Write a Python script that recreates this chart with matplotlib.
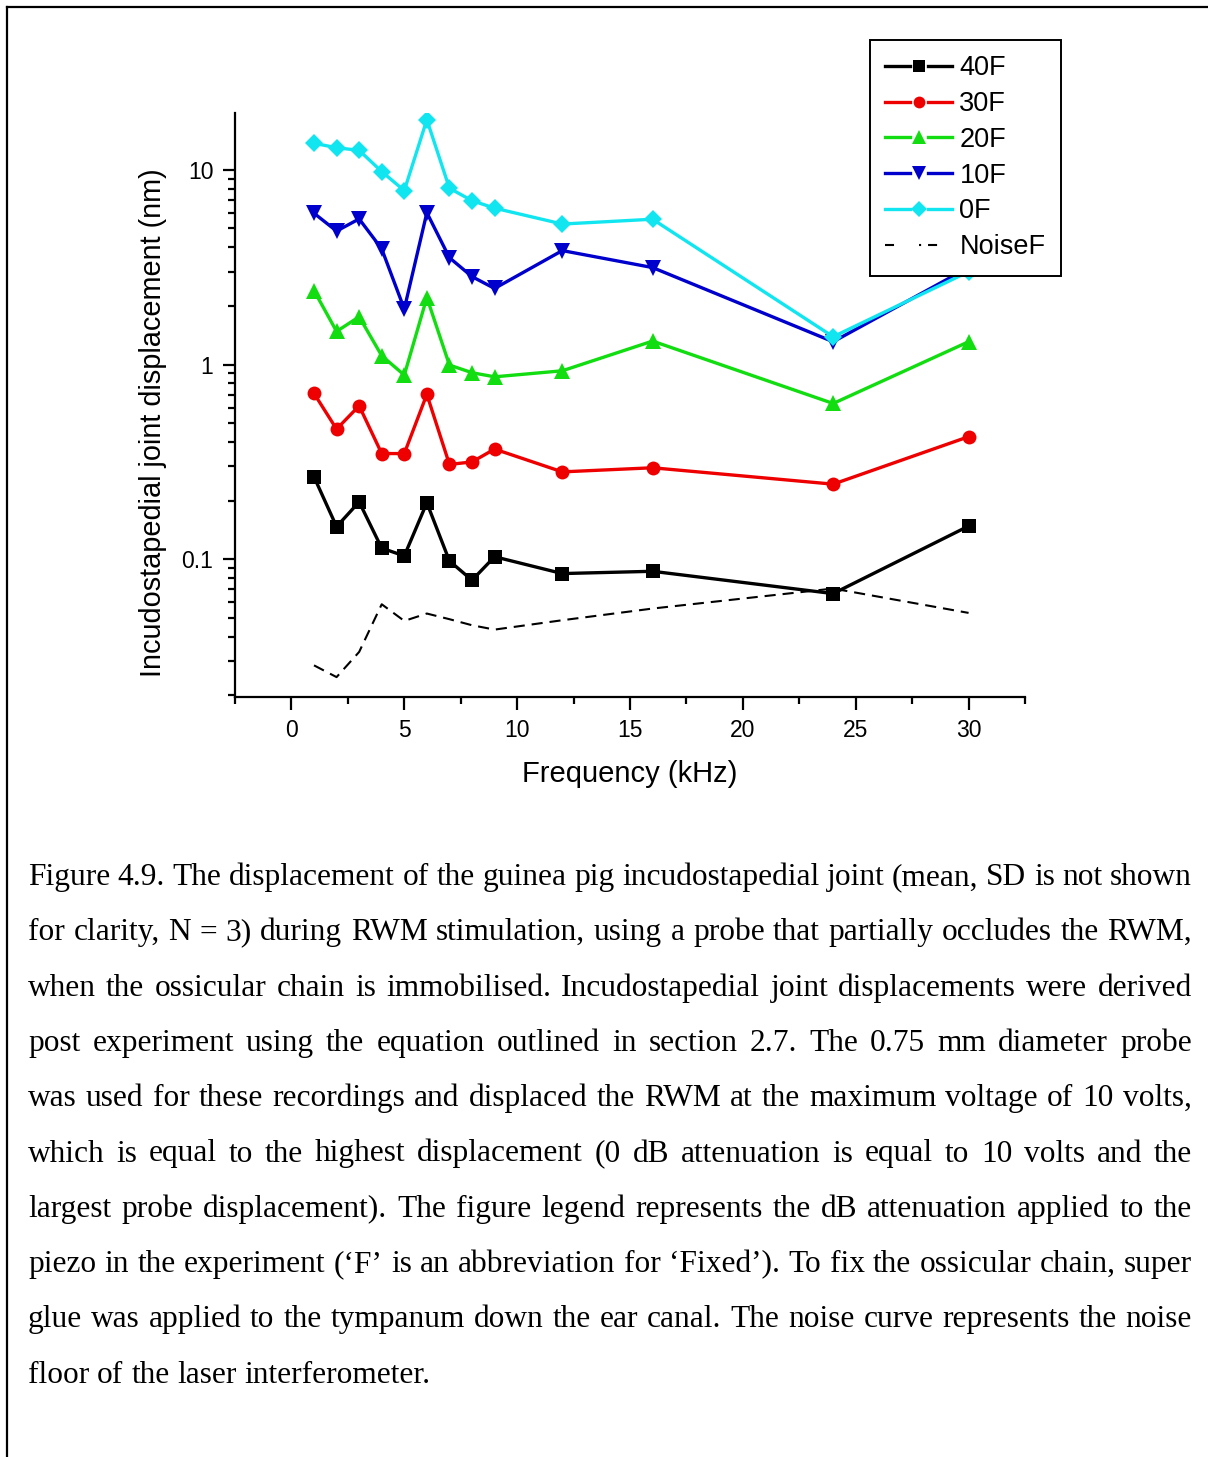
import matplotlib
matplotlib.use("Agg")
import matplotlib.pyplot as plt
from matplotlib.lines import Line2D
from matplotlib.legend_handler import HandlerBase
from matplotlib.transforms import IdentityTransform
from matplotlib.ticker import FixedLocator, NullFormatter, LogLocator

# Frequencies (kHz)
freq = [1, 2, 3, 4, 5, 6, 7, 8, 9, 12, 16, 24, 30]

# Displacement (nm) per attenuation level
disp_40f = [0.265, 0.147, 0.197, 0.114, 0.104, 0.195, 0.098, 0.078, 0.103, 0.0844, 0.0867, 0.0666, 0.148]
disp_30f = [0.711, 0.466, 0.614, 0.349, 0.349, 0.703, 0.307, 0.316, 0.368, 0.281, 0.295, 0.243, 0.426]
disp_20f = [2.40, 1.48, 1.76, 1.11, 0.883, 2.21, 0.994, 0.908, 0.865, 0.929, 1.32, 0.631, 1.31]
disp_10f = [5.99, 4.85, 5.60, 3.93, 1.93, 6.03, 3.54, 2.83, 2.46, 3.85, 3.15, 1.31, 3.15]
disp_0f = [13.7, 13.0, 12.6, 9.8, 7.83, 18.1, 8.05, 6.95, 6.36, 5.27, 5.58, 1.39, 3.0]
disp_noise = [0.0285, 0.0248, 0.0334, 0.0587, 0.0482, 0.0526, 0.0492, 0.0458, 0.0435, 0.0486, 0.0558, 0.0707, 0.053]

series_labels = ["40F", "30F", "20F", "10F", "0F"]
x_ticks = [0, 5, 10, 15, 20, 25, 30]
y_ticks = [0.1, 1, 10]
y_tick_labels = ["0.1", "1", "10"]

caption_lines = [
    "Figure 4.9. The displacement of the guinea pig incudostapedial joint (mean, SD is not shown",
    "for clarity, N = 3) during RWM stimulation, using a probe that partially occludes the RWM,",
    "when the ossicular chain is immobilised. Incudostapedial joint displacements were derived",
    "post experiment using the equation outlined in section 2.7. The 0.75 mm diameter probe",
    "was used for these recordings and displaced the RWM at the maximum voltage of 10 volts,",
    "which is equal to the highest displacement (0 dB attenuation is equal to 10 volts and the",
    "largest probe displacement). The figure legend represents the dB attenuation applied to the",
    "piezo in the experiment (\u2018F\u2019 is an abbreviation for \u2018Fixed\u2019). To fix the ossicular chain, super",
    "glue was applied to the tympanum down the ear canal. The noise curve represents the noise",
    "floor of the laser interferometer.",
]

W, H = 1208, 1457
plt.rcParams["lines.scale_dashes"] = False
sans = ["Liberation Sans", "DejaVu Sans"]
serif = ["Liberation Serif", "DejaVu Serif"]


class SplitLineHandler(HandlerBase):
    """Legend key drawn as line - marker - line with small gaps round the marker."""

    def create_artists(self, legend, orig, xdescent, ydescent, width, height,
                       fontsize, trans):
        y = height / 2 - ydescent
        x0, x1 = -xdescent, -xdescent + width
        xm = (x0 + x1) / 2
        g = 0.135 * width
        kw = dict(color=orig.get_color(), lw=orig.get_linewidth())
        left = Line2D([x0, xm - g], [y, y], **kw)
        right = Line2D([xm + g, x1], [y, y], **kw)
        mark = Line2D([xm], [y], marker=orig.get_marker(), color=orig.get_color(),
                      markersize=orig.get_markersize() * 0.85, markeredgewidth=0,
                      linestyle="none")
        for a in (left, right, mark):
            a.set_transform(trans)
        return [left, right, mark]


fig = plt.figure(figsize=(W / 100, H / 100), dpi=100)

# page frame (left and top rules)
fig.add_artist(Line2D([7.5 / W, 7.5 / W], [0, 1 - 7 / H], color="black", lw=1.6,
                      transform=fig.transFigure))
fig.add_artist(Line2D([7.5 / W, 1], [1 - 7 / H, 1 - 7 / H], color="black", lw=1.6,
                      transform=fig.transFigure))

ax = fig.add_axes([235 / W, 1 - 697 / H, (1025 - 235) / W, (697 - 113) / H])

styles = [
    ("#000000", "s", 9.5),
    ("#ee0000", "o", 10),
    ("#11dd11", "^", 12),
    ("#0000cc", "v", 12),
    ("#11e6f0", "D", 9.5),
]
data = [disp_40f, disp_30f, disp_20f, disp_10f, disp_0f]
handles = []
for vals, lab, (c, m, ms) in zip(data, series_labels, styles):
    h, = ax.plot(freq, vals, color=c, marker=m, markersize=ms, lw=2.4, label=lab,
                 markeredgewidth=0, zorder=3)
    handles.append(h)

ax.plot(freq, disp_noise, color="black", lw=1.5, dashes=(8, 5), zorder=2)
noise_handle = Line2D([], [], color="black", lw=1.5, dashes=(6.5, 18, 1.5, 5))
handles.append(noise_handle)

ax.set_yscale("log")
ax.set_xlim(-2.5, 32.5)
ax.set_ylim(0.0196, 19.6)

ax.set_xticks(x_ticks)
ax.set_xticklabels([str(t) for t in x_ticks])
ax.xaxis.set_minor_locator(FixedLocator([t + 2.5 for t in range(-5, 35, 5)]))
ax.set_yticks(y_ticks)
ax.set_yticklabels(y_tick_labels)
ax.yaxis.set_minor_locator(LogLocator(base=10, subs=range(2, 10)))
ax.yaxis.set_minor_formatter(NullFormatter())

for s in ["top", "right"]:
    ax.spines[s].set_visible(False)
for s in ["left", "bottom"]:
    ax.spines[s].set_linewidth(1.6)

ax.tick_params(which="major", direction="out", length=9, width=1.6, labelsize=16.5,
               pad=6.5)
ax.tick_params(which="minor", direction="out", length=5, width=1.6)
for lbl in ax.get_xticklabels() + ax.get_yticklabels():
    lbl.set_family(sans)

ax.set_xlabel("Frequency (kHz)", fontsize=21, family=sans, labelpad=13)
ax.set_ylabel("Incudostapedial joint displacement (nm)", fontsize=20.8, family=sans)
ax.yaxis.set_label_coords((167 - 235) / (1025 - 235), (697 - 423) / (697 - 113))

split = SplitLineHandler()
leg = fig.legend(handles, series_labels + ["NoiseF"], loc="upper left",
                 bbox_to_anchor=(870 / W, 1 - 40 / H), prop={"family": sans, "size": 19.5},
                 frameon=True, fancybox=False, edgecolor="black", framealpha=1,
                 handlelength=2.47, handletextpad=0.26, labelspacing=0.36,
                 borderpad=0.57, borderaxespad=0,
                 handler_map={h: split for h in handles[:5]})
leg.get_frame().set_linewidth(1.4)

# justified caption
fig.canvas.draw()
renderer = fig.canvas.get_renderer()
cap_fs = 22.6
x_left, x_right = 28, 1192
base0, step = 885, 55.3
for i, line in enumerate(caption_lines):
    y = H - (base0 + i * step)
    words = line.split(" ")
    texts = [fig.text(0, y, w, fontsize=cap_fs, family=serif, transform=IdentityTransform(),
                      va="baseline", ha="left") for w in words]
    widths = [t.get_window_extent(renderer).width for t in texts]
    if i < len(caption_lines) - 1:
        gap = (x_right - x_left - sum(widths)) / (len(words) - 1)
    else:
        space = fig.text(0, 0, "a a", fontsize=cap_fs, family=serif)
        aa = fig.text(0, 0, "aa", fontsize=cap_fs, family=serif)
        gap = space.get_window_extent(renderer).width - aa.get_window_extent(renderer).width
        space.remove()
        aa.remove()
    x = x_left
    for t, w in zip(texts, widths):
        t.set_x(x)
        x += w + gap

fig.savefig("out.png", dpi=100)
